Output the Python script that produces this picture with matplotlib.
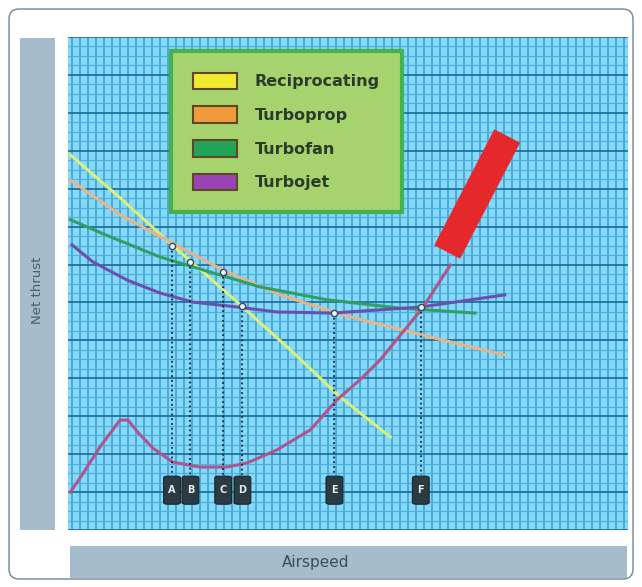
import numpy as np
import matplotlib.pyplot as plt
from matplotlib.patches import FancyBboxPatch, Rectangle, Patch

W, H = 642, 587

# curves, in grid units (airspeed 0-70, thrust 0-130)
recip_speed = [0.3, 6.5, 13.0, 20.3, 27.8, 34.0, 40.3]
recip_thrust = [98.9, 87.6, 75.2, 61.7, 47.5, 35.1, 24.5]

prop_speed = [0.3, 6.5, 13.0, 19.3, 26.5, 34.9, 45.3, 54.6]
prop_thrust = [92.3, 83.1, 75.7, 68.6, 62.0, 56.4, 50.9, 46.1]

fan_speed = [0.3, 5.3, 11.5, 17.8, 24.0, 32.4, 41.5, 50.9]
fan_thrust = [81.8, 77.3, 72.0, 68.0, 64.1, 60.7, 58.5, 57.2]

jet_speed = [0.5, 3.1, 7.4, 11.5, 15.6, 19.9, 26.1, 33.1, 44.1, 54.6]
jet_thrust = [75.2, 70.7, 65.9, 62.5, 60.1, 59.1, 57.5, 57.2, 58.8, 62.0]

req_speed = [0.3, 1.5, 4.0, 6.5, 7.5, 8.8, 10.6, 13.1, 16.5, 19.9, 22.4,
             26.1, 30.3, 33.6, 36.5, 39.0, 44.3, 47.8]
req_thrust = [10.0, 13.7, 21.9, 29.0, 29.0, 25.6, 21.6, 17.9, 16.6, 16.6, 17.7,
              21.1, 26.4, 34.3, 39.6, 44.8, 58.5, 69.9]

bar_speed = [47.4, 54.9]
bar_thrust = [73.3, 103.9]

points = ['A', 'B', 'C', 'D', 'E', 'F']
point_speed = [13.0, 15.3, 19.4, 21.8, 33.3, 44.1]
point_thrust = [74.9, 70.7, 68.0, 59.1, 57.2, 58.8]

names = ['Reciprocating', 'Turboprop', 'Turbofan', 'Turbojet']
swatch_colors = ['#f2ea2e', '#f09a3c', '#22a356', '#9b42b4']

fig = plt.figure(figsize=(W / 100, H / 100), dpi=100)

# frame and the two label bars, drawn in pixel space
bg = fig.add_axes([0, 0, 1, 1])
bg.set_xlim(0, W)
bg.set_ylim(H, 0)
bg.axis('off')
bg.add_patch(FancyBboxPatch((9, 9), 624, 570, boxstyle='round,pad=0,rounding_size=10',
                            fc='white', ec='#6d8696', lw=1))
bg.add_patch(Rectangle((20, 38), 35, 492, fc='#a4bccb', ec='none'))
bg.text(37.5, 290, 'Net thrust', rotation=90, ha='center', va='center',
        fontsize=9.5, color='#4d5d68')
bg.add_patch(Rectangle((70, 546), 557, 32, fc='#a4bccb', ec='none'))
bg.text(316, 562, 'Airspeed', ha='center', va='center', fontsize=11, color='#3d4d58')

# graph paper
ax = fig.add_axes([68 / W, 1 - 530 / H, 560 / W, 493 / H])
ax.set_xlim(0, 70)
ax.set_ylim(0, 130)
ax.set_facecolor('#86daf8')
ax.set_xticks(np.arange(0.5, 70, 1))
ax.set_yticks(np.arange(0, 131, 10))
ax.set_yticks(np.arange(0, 131, 2.5), minor=True)
ax.grid(which='major', axis='x', color='#3a9bd2', lw=1.1)
ax.grid(which='minor', axis='y', color='#4eb0e2', lw=0.9)
ax.grid(which='major', axis='y', color='#1f6fa2', lw=1.3)
ax.tick_params(which='both', length=0, labelbottom=False, labelleft=False)
for s in ax.spines.values():
    s.set_visible(False)

lw = 2.2
ax.plot(recip_speed, recip_thrust, color='#d9ef7c', lw=lw, zorder=3)
ax.plot(prop_speed, prop_thrust, color='#e6b48a', lw=lw, zorder=3)
ax.plot(fan_speed, fan_thrust, color='#2f9f63', lw=lw, zorder=3)
ax.plot(jet_speed, jet_thrust, color='#6a4fae', lw=lw, zorder=3)
ax.plot(req_speed, req_thrust, color='#b0548e', lw=lw, zorder=4)
ax.plot(bar_speed, bar_thrust, color='#e5282b', lw=21, solid_capstyle='butt', zorder=5)

# drop lines and letter tags
for p, x, y in zip(points, point_speed, point_thrust):
    ax.plot([x, x], [y, 14.5], color='#15263a', lw=1.3, ls=':', zorder=6)
    ax.plot(x, y, 'o', ms=4.5, mfc='#e8f4f8', mec='#3a4a5a', mew=1, zorder=7)
    ax.add_patch(FancyBboxPatch((x - 1.05, 6.8), 2.1, 7.4,
                                boxstyle='round,pad=0,rounding_size=0.5',
                                fc='#2c3a42', ec='#1a252b', lw=0.8, zorder=7))
    ax.text(x, 10.5, p, ha='center', va='center', fontsize=7, fontweight='bold',
            color='#e6ecee', zorder=8)

handles = [Patch(facecolor=c, edgecolor='#5a4a22', lw=1.5, label=n)
           for c, n in zip(swatch_colors, names)]
leg = ax.legend(handles=handles, loc='upper left', bbox_to_anchor=(171 / W, 1 - 51 / H),
                bbox_transform=fig.transFigure, borderaxespad=0,
                prop={'weight': 'bold', 'size': 11.5},
                handlelength=2.8, handleheight=1.25, labelspacing=1.05, borderpad=1.35,
                handletextpad=1.1, frameon=True, fancybox=False, facecolor='#a6d36e',
                edgecolor='#46b14e', framealpha=1, labelcolor='#2b3b2b')
leg.get_frame().set_linewidth(3)
leg.set_zorder(10)

fig.savefig('out.png', dpi=100)
